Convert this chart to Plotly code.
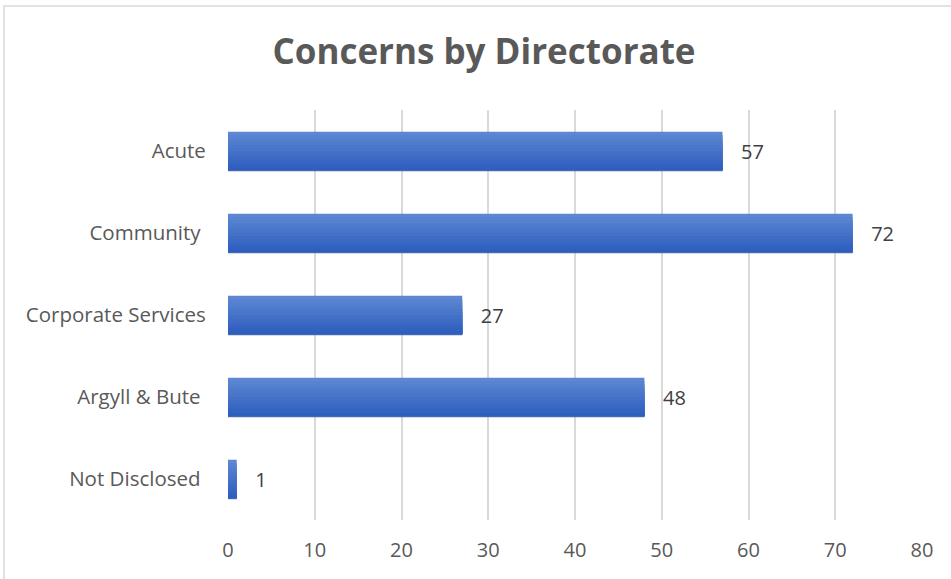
import plotly.graph_objects as go

categories = ["Acute", "Community", "Corporate Services", "Argyll & Bute", "Not Disclosed"]
tick_labels = ["Acute", "Community\u00a0", "Corporate Services", "Argyll & Bute\u00a0", "Not Disclosed\u00a0"]
values = [57, 72, 27, 48, 1]

W, H = 951, 579
L, R, T, B = 228, 29, 110, 59

# gradient colours top -> bottom
top = (0x5d, 0x87, 0xd2)
bot = (0x2e, 0x5e, 0xbe)
n = 12
bar_w = 0.47
strip = bar_w / n

fig = go.Figure()

# soft shadow under bars
fig.add_trace(go.Bar(
    y=categories, x=values, orientation="h",
    width=0.05, offset=bar_w / 2 - 0.03,
    marker=dict(color="rgba(90,90,90,0.22)", line=dict(width=0)),
    hoverinfo="skip", showlegend=False,
))

for i in range(n):
    t = i / (n - 1)
    c = tuple(round(top[k] + (bot[k] - top[k]) * t) for k in range(3))
    lab = i == 0
    fig.add_trace(go.Bar(
        y=categories, x=values, orientation="h",
        width=bar_w - i * strip, offset=-bar_w / 2 + i * strip,
        marker=dict(color="rgb(%d,%d,%d)" % c, line=dict(width=0)),
        showlegend=False,
        text=[f"\u00a0\u00a0\u00a0{v}" for v in values] if lab else None,
        textposition="outside" if lab else "none",
        constraintext="none",
        cliponaxis=False,
        textfont=dict(family="Open Sans", size=20, color="#404040"),
    ))

fig.update_layout(
    width=W, height=H,
    margin=dict(l=L, r=R, t=T, b=B, autoexpand=False),
    paper_bgcolor="white", plot_bgcolor="white",
    barmode="overlay",
    title=dict(text="<b>Concerns by Directorate</b>", x=484 / W,
               xanchor="center", y=1 - 52 / H, yanchor="middle",
               font=dict(family="Open Sans", size=35, color="#595959")),
    xaxis=dict(range=[0, 80], dtick=10, tick0=0, showgrid=True, gridcolor="#d9d9d9", gridwidth=1.5,
               zeroline=False, showline=False, ticks="outside", ticklen=12, tickcolor="rgba(0,0,0,0)",
               tickfont=dict(family="Open Sans", size=20, color="#595959"), fixedrange=True),
    yaxis=dict(categoryorder="array", categoryarray=categories, tickvals=categories, ticktext=tick_labels,
               autorange="reversed", showgrid=False, zeroline=False, showline=False,
               ticks="outside", ticklen=17, tickcolor="rgba(0,0,0,0)",
               tickfont=dict(family="Open Sans", size=20.5, color="#595959")),
    shapes=[dict(type="rect", xref="paper", yref="paper",
                 x0=(4 - L) / (W - L - R), x1=(960 - L) / (W - L - R),
                 y0=(H - B - 590) / (H - T - B), y1=(H - B - 6) / (H - T - B),
                 line=dict(color="#d9d9d9", width=1.5), fillcolor="rgba(0,0,0,0)", layer="below")],
)

fig.write_html("out.html")
